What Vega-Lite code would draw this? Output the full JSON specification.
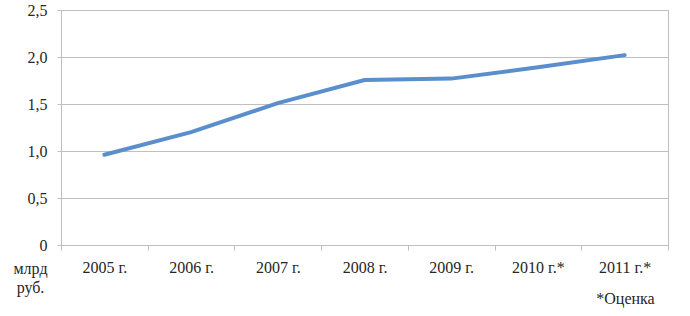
{
  "$schema": "https://vega.github.io/schema/vega-lite/v6.json",
  "width": 607,
  "height": 235,
  "autosize": "none",
  "padding": {"left": 61, "top": 10, "right": 22, "bottom": 71},
  "background": "white",
  "config": {
    "font": "Liberation Sans Narrow",
    "view": {"stroke": "#bfbfbf", "strokeWidth": 1},
    "axis": {"labelFont": "Liberation Sans Narrow", "titleFont": "Liberation Sans Narrow", "labelColor": "#262626", "titleColor": "#262626", "labelFontSize": 16, "titleFontSize": 16, "titleFontWeight": "normal"}
  },
  "data": {"values": [
    {"year": "2005 г.", "value": 0.96},
    {"year": "2006 г.", "value": 1.2},
    {"year": "2007 г.", "value": 1.51},
    {"year": "2008 г.", "value": 1.755},
    {"year": "2009 г.", "value": 1.77},
    {"year": "2010 г.*", "value": 1.89},
    {"year": "2011 г.*", "value": 2.02}
  ]},
  "mark": {"type": "line", "color": "#5b8fcb", "strokeWidth": 4, "strokeCap": "round"},
  "encoding": {
    "x": {
      "field": "year", "type": "ordinal", "sort": null,
      "scale": {"type": "band", "paddingInner": 0, "paddingOuter": 0},
      "axis": {
        "title": "*Оценка", "titleX": 564, "titleY": 53, "titleAnchor": null, "titleAlign": "center", "titleBaseline": "middle",
        "labelAngle": 0, "labelPadding": 9, "tickSize": 5, "tickBand": "extent", "tickColor": "#bfbfbf", "domainColor": "#bfbfbf", "grid": false
      }
    },
    "y": {
      "field": "value", "type": "quantitative",
      "scale": {"domain": [0, 2.5], "nice": false},
      "axis": {
        "values": [0, 0.5, 1, 1.5, 2, 2.5],
        "labelExpr": "datum.value == 0 ? '0' : replace(format(datum.value, '.1f'), '.', ',')",
        "title": ["млрд", "руб."], "titleAngle": 0, "titleX": -31, "titleY": 258, "titleAlign": "center", "titleBaseline": "middle", "titleLineHeight": 19,
        "gridColor": "#bfbfbf", "domainColor": "#bfbfbf", "tickColor": "#bfbfbf", "tickSize": 4, "labelPadding": 10
      }
    }
  }
}
